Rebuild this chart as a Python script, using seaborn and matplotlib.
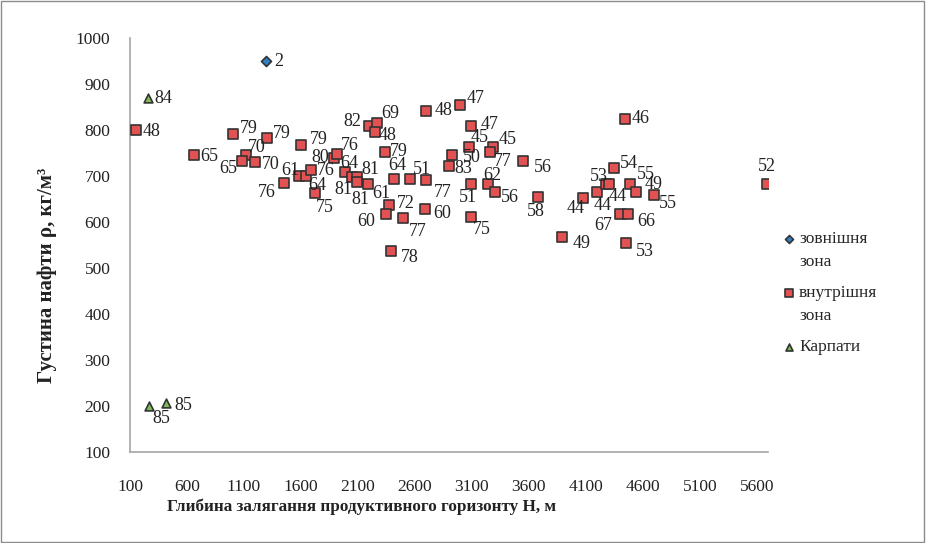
import matplotlib
matplotlib.use("Agg")
import pandas as pd
import matplotlib.pyplot as plt
import seaborn as sns
from matplotlib.patches import Rectangle

sns.set_style('white')
plt.rcParams['font.family'] = ['Liberation Serif', 'DejaVu Serif']

# зовнішня зона
outer_x = [1290]
outer_y = [950]
outer_lab = ['2']

# Карпати
carp_x = [260, 270, 415]
carp_y = [870, 200, 207]
carp_lab = ['84', '85', '85']

# внутрішня зона
inner_x = [150, 660, 1000, 1117, 1084, 1195, 1298, 1452, 1584, 1648,
           1689, 1719, 1596, 1890, 1912, 1990, 2052, 2092, 2092, 2192,
           2195, 2267, 2247, 2341, 2416, 2554, 2694, 2373, 2344, 2495,
           2688, 2393, 2700, 2995, 3095, 3074, 3284, 3255, 2928, 2898,
           3089, 3240, 3302, 3089, 3547, 3678, 3892, 4073, 4196, 4272,
           4301, 4344, 4491, 4541, 4701, 4400, 4467, 4453, 5690, 4440]
inner_y = [800, 746, 792, 745, 732, 730, 783, 685, 700, 700,
           713, 662, 768, 740, 747, 708, 697, 698, 686, 683,
           808, 815, 796, 752, 693, 693, 692, 636, 617, 609,
           629, 537, 842, 855, 808, 763, 762, 752, 745, 722,
           683, 683, 664, 611, 732, 655, 568, 651, 664, 682,
           682, 718, 682, 664, 658, 618, 618, 553, 682, 824]
inner_lab = ['48', '65', '79', '70', '65', '70', '79', '76', '61', '64',
             '76', '75', '79', '80', '76', '64', '81', '81', '81', '61',
             '82', '69', '48', '79', '64', '51', '77', '72', '60', '77',
             '60', '78', '48', '47', '47', '45', '45', '77', '50', '83',
             '51', '62', '56', '75', '56', '58', '49', '44', '44', '53',
             '44', '54', '55', '49', '55', '67', '66', '53', '52', '46']

# label placement relative to marker, pixels (dx right, dy down)
outer_off = [(13, 1)]
carp_off = [(15, 1), (12, 13), (17, 3)]
inner_off = [(16, 2), (15, 2), (16, -5), (11, -8), (-14, 7), (16, 2), (15, -4),
             (-17, 10), (-9, -5), (11, 10), (15, 1), (10, 14), (18, -5),
             (-14, 0), (13, -9), (4, -9), (-9, 12), (13, -7), (3, 17),
             (13, 10), (-16, -5), (13, -10), (13, 4), (13, 0), (3, -14),
             (12, -10), (17, 13), (17, -2), (-20, 7), (15, 14), (17, 5),
             (18, 7), (17, 0), (16, -6), (18, -2), (11, -9), (15, -8),
             (13, 10), (19, 2), (14, 3), (-3, 14), (4, -8), (15, 5),
             (11, 13), (20, 6), (-2, 15), (19, 7), (-7, 10), (6, 13),
             (-7, -8), (9, 12), (15, -4), (15, -10), (17, -8), (13, 8),
             (-17, 12), (18, 8), (19, 8), (0, -18), (16, 0)]

series = [
    ('зовнішня\nзона', outer_x, outer_y, outer_lab, outer_off, 'D', '#2f7fc1', 26),
    ('внутрішня\nзона', inner_x, inner_y, inner_lab, inner_off, 's', '#e25252', 50),
    ('Карпати', carp_x, carp_y, carp_lab, carp_off, '^', '#7dbb5a', 40),
]

fig = plt.figure(figsize=(9.26, 5.43), dpi=100)
ax = fig.add_axes([130 / 926, 91.3 / 543, 638.3 / 926, 413.7 / 543])

for name, xs, ys, labs, offs, mk, col, sz in series:
    df = pd.DataFrame({'x': xs, 'y': ys})
    sns.scatterplot(data=df, x='x', y='y', marker=mk, color=col, s=sz,
                    edgecolor='#333333', linewidth=1.2, label=name, ax=ax,
                    zorder=3)
    for xv, yv, lb, (dx, dy) in zip(xs, ys, labs, offs):
        ax.annotate(lb, (xv, yv), xytext=(dx, -dy), textcoords='offset pixels',
                    ha='center', va='center', fontsize=13, color='#222222')

ax.set_xlim(100, 5700)
ax.set_ylim(100, 1000)
ax.set_xticks(range(100, 5601, 500))
ax.set_yticks(range(100, 1001, 100))
ax.set_xlabel('')
ax.set_ylabel('')
for side in ['top', 'right']:
    ax.spines[side].set_visible(False)
for side in ['left', 'bottom']:
    ax.spines[side].set_color('#a6a6a6')
    ax.spines[side].set_linewidth(1.2)
ax.tick_params(axis='both', direction='out', length=4, width=1.1,
               color='#a6a6a6', labelsize=12.5, labelcolor='#222222')
ax.tick_params(axis='y', pad=10)
ax.tick_params(axis='x', pad=16)

fig.text(362 / 926, 1 - 507 / 543, 'Глибина залягання продуктивного горизонту H, м',
         ha='center', va='center', fontsize=12.3, fontweight='bold', color='#222222')
fig.text(47 / 926, 1 - 275 / 543, 'Густина нафти ρ, кг/м³', rotation=90,
         ha='center', va='center', fontsize=15, fontweight='bold', color='#222222')

leg = ax.legend(loc='upper left', bbox_to_anchor=(780 / 926, 1 - 231 / 543),
                bbox_transform=fig.transFigure, frameon=False, fontsize=12.5,
                handletextpad=0.1, labelspacing=0.85, borderpad=0, borderaxespad=0,
                markerscale=0.8, handlelength=1.0)
for t in leg.get_texts():
    t.set_linespacing(1.6)
for col in leg._legend_handle_box.get_children():
    for row in col.get_children():
        row.align = 'top'

fig.patches.append(Rectangle((0.001, 0.002), 0.997, 0.996, transform=fig.transFigure,
                             fill=False, edgecolor='#8c8c8c', linewidth=1))

fig.savefig('out.png', dpi=100)
